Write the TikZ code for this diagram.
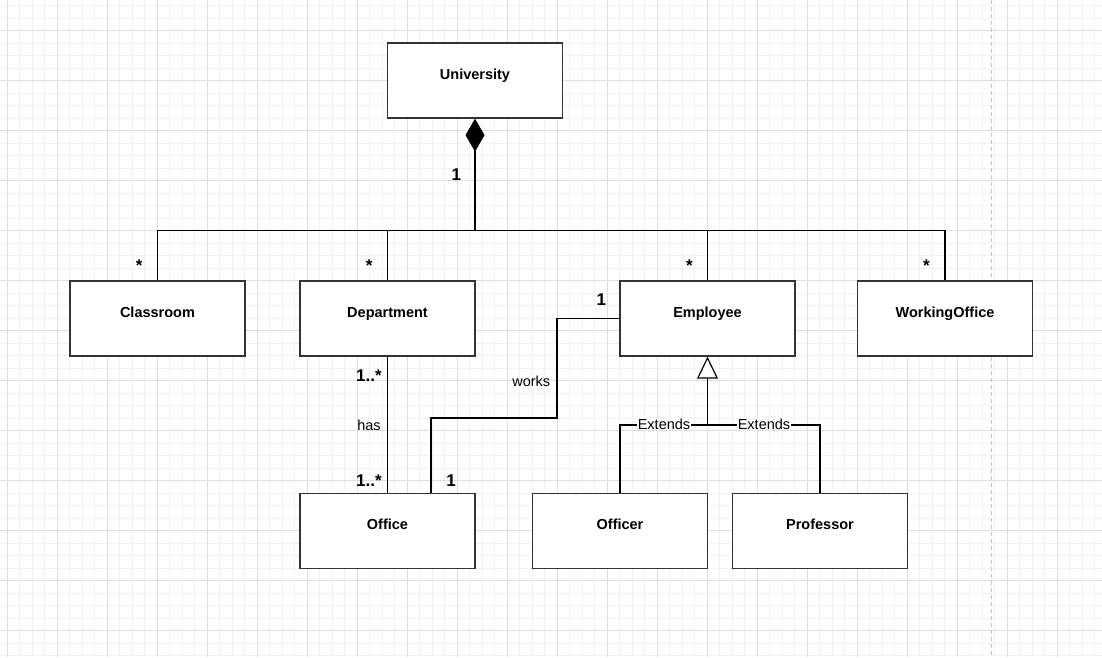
\documentclass[tikz,border=0pt]{standalone}
\usepackage{fontspec}
\setmainfont{Liberation Sans}
\usetikzlibrary{arrows.meta}
\definecolor{minorgrid}{HTML}{F2F2F2}
\definecolor{majorgrid}{HTML}{DEDEDE}
\definecolor{pagebreak}{HTML}{C4C4C4}
\definecolor{boxline}{HTML}{333333}
\tikzset{
  classbox/.style={draw=boxline, line width=1.3pt, fill=white, rectangle,
    minimum width=175pt, minimum height=75pt, inner sep=0pt,
    font=\fontsize{14.5}{16}\selectfont\bfseries, text height=11pt, text depth=14pt},
  conn/.style={draw=black, line width=1.2pt},
  mult/.style={font=\fontsize{17}{19}\selectfont\bfseries, inner sep=0pt, anchor=base},
  elabel/.style={font=\fontsize{14.5}{16}\selectfont, inner sep=0pt},
  extlabel/.style={font=\fontsize{14.5}{16}\selectfont, fill=white, inner sep=1pt},
}
\begin{document}
\begin{tikzpicture}[x=1pt,y=-1pt]
\useasboundingbox (0,0) rectangle (1102,657);
\fill[white] (0,0) rectangle (1102,657);
% grid
\foreach \i in {0,...,89} \draw[minorgrid, line width=1pt] ({\i*12.5-5.5},0) -- ++(0,657);
\foreach \i in {0,...,52} \draw[minorgrid, line width=1pt] (0,{\i*12.5+5.5}) -- ++(1102,0);
\foreach \i in {0,...,21} \draw[majorgrid, line width=1pt] ({\i*50+7},0) -- ++(0,657);
\foreach \i in {0,...,12} \draw[majorgrid, line width=1pt] (0,{\i*50+30.5}) -- ++(1102,0);
\draw[pagebreak, line width=1pt, dash pattern=on 4pt off 3pt] (991.5,0) -- (991.5,657);

% classes
\node[classbox] (univ) at (475,80.5) {University};
\node[classbox] (class) at (157.5,318.5) {Classroom};
\node[classbox] (dept) at (387.5,318.5) {Department};
\node[classbox] (emp) at (707.5,318.5) {Employee};
\node[classbox] (wo) at (945,318.5) {WorkingOffice};
\node[classbox] (office) at (387.5,531) {Office};
\node[classbox] (officer) at (620,531) {Officer};
\node[classbox] (prof) at (820,531) {Professor};

% composition
\coordinate (bus) at (475,230.5);
\draw[conn, {Diamond[length=33pt,width=19pt]}-] (univ.south) -- (bus);
\draw[conn] (class.north) |- (bus) -| (wo.north);
\draw[conn] (dept.north) -- (dept.north |- bus);
\draw[conn] (emp.north) -- (emp.north |- bus);

% has
\draw[conn] (dept.south) -- (office.north);

% works
\coordinate (wa) at (557,418);
\coordinate (wb) at (431,418);
\draw[conn] (emp.west) -| (wa) -- (wb) -- (wb |- office.north);

% generalization
\coordinate (gen) at (707.5,425);
\draw[conn, {Triangle[open,length=22pt,width=21pt,fill=white]}-] (emp.south) -- (gen);
\draw[conn] (officer.north) |- (gen) -| (prof.north);
\node[extlabel] (ext1) at (664,424) {Extends};
\node[extlabel] (ext2) at (764,424) {Extends};

% labels
\node[mult] (m1) at (456.3,180.3) {1};
\node[mult] (m2) at (139.3,271.5) {*};
\node[mult] (m3) at (369.3,271.5) {*};
\node[mult] (m4) at (689.3,271.5) {*};
\node[mult] (m5) at (926.3,271.5) {*};
\node[mult] (m6) at (369,381) {1..*};
\node[mult] (m7) at (369,486.7) {1..*};
\node[mult] (m8) at (451.2,486.7) {1};
\node[mult] (m9) at (601.3,305.3) {1};
\node[elabel] (works) at (531.3,381) {works};
\node[elabel] (has) at (369,425.3) {has};
\end{tikzpicture}
\end{document}
